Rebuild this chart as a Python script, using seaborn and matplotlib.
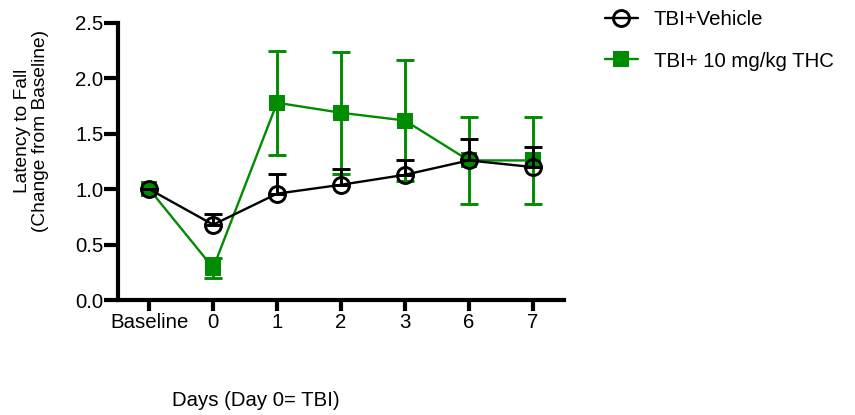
import numpy as np
import pandas as pd
import seaborn as sns
import matplotlib.pyplot as plt

days = ['Baseline', '0', '1', '2', '3', '6', '7']
vehicle_mean = [1.00, 0.68, 0.96, 1.04, 1.13, 1.26, 1.20]
vehicle_err = [0.00, 0.10, 0.18, 0.14, 0.13, 0.19, 0.18]
thc_mean = [1.00, 0.29, 1.78, 1.69, 1.62, 1.26, 1.26]
thc_err = [0.00, 0.09, 0.47, 0.55, 0.55, 0.39, 0.39]

sns.set_style('ticks', {'axes.edgecolor': 'black', 'text.color': 'black',
                        'xtick.color': 'black', 'ytick.color': 'black'})
plt.rcParams['font.family'] = ['Liberation Sans', 'DejaVu Sans']
fs = 14.7

pos = np.arange(len(days))
df = pd.concat([
    pd.DataFrame({'pos': pos, 'val': thc_mean, 'group': 'TBI+ 10 mg/kg THC'}),
    pd.DataFrame({'pos': pos, 'val': vehicle_mean, 'group': 'TBI+Vehicle'}),
])

fig = plt.figure(figsize=(8.55, 4.15), dpi=100)
ax = fig.add_axes([0.138, 0.277, 0.5216, 0.6676])

green = '#008C00'
# THC series: symmetric error bars
ax.errorbar(pos, thc_mean, yerr=thc_err, fmt='none', ecolor=green,
            elinewidth=2.1, capsize=6.5, capthick=2.1, zorder=2)
sns.lineplot(data=df[df.group == 'TBI+ 10 mg/kg THC'], x='pos', y='val', ax=ax,
             color=green, lw=1.7, marker='s', markersize=12, markeredgecolor=green,
             markeredgewidth=0, label='TBI+ 10 mg/kg THC', zorder=3)

# Vehicle series: upper error bars only
ax.errorbar(pos, vehicle_mean, yerr=[np.zeros(len(pos)), vehicle_err], fmt='none',
            ecolor='black', elinewidth=2.1, capsize=6.5, capthick=2.1, zorder=4)
sns.lineplot(data=df[df.group == 'TBI+Vehicle'], x='pos', y='val', ax=ax,
             color='black', lw=1.7, marker='o', markersize=11.5, markerfacecolor='none',
             markeredgecolor='black', markeredgewidth=2.1, label='TBI+Vehicle', zorder=5)

ax.set_xlim(-0.49, 6.49)
ax.set_ylim(0, 2.5)
ax.set_xticks(pos)
ax.set_xticklabels(days)
ax.set_yticks([0, 0.5, 1.0, 1.5, 2.0, 2.5])
ax.set_yticklabels(['0.0', '0.5', '1.0', '1.5', '2.0', '2.5'])
ax.set_xlabel('')
ax.set_ylabel('')
sns.despine(ax=ax)
for s in ['left', 'bottom']:
    ax.spines[s].set_linewidth(3.0)
    ax.spines[s].set_color('black')
ax.tick_params(axis='x', length=8, width=3.0, labelsize=fs, pad=1, colors='black')
ax.tick_params(axis='y', length=10, width=3.0, labelsize=fs, pad=0.5, colors='black')

fig.text(0.037, 0.685, 'Latency to Fall\n(Change from Baseline)', rotation=90,
         ha='center', va='center', fontsize=13.8, linespacing=1.12, color='black')
fig.text(0.299, 0.036, 'Days (Day 0= TBI)', ha='center', va='center', fontsize=fs,
         color='black')

handles, labels = ax.get_legend_handles_labels()
order = [labels.index('TBI+Vehicle'), labels.index('TBI+ 10 mg/kg THC')]
leg = ax.legend([handles[i] for i in order], [labels[i] for i in order],
                loc='upper left', bbox_to_anchor=(0.686, 1.02), bbox_transform=fig.transFigure,
                frameon=False, fontsize=fs, handlelength=1.6, labelspacing=1.1,
                handletextpad=0.8)
for t in leg.get_texts():
    t.set_color('black')

fig.savefig('out.png', dpi=100)
